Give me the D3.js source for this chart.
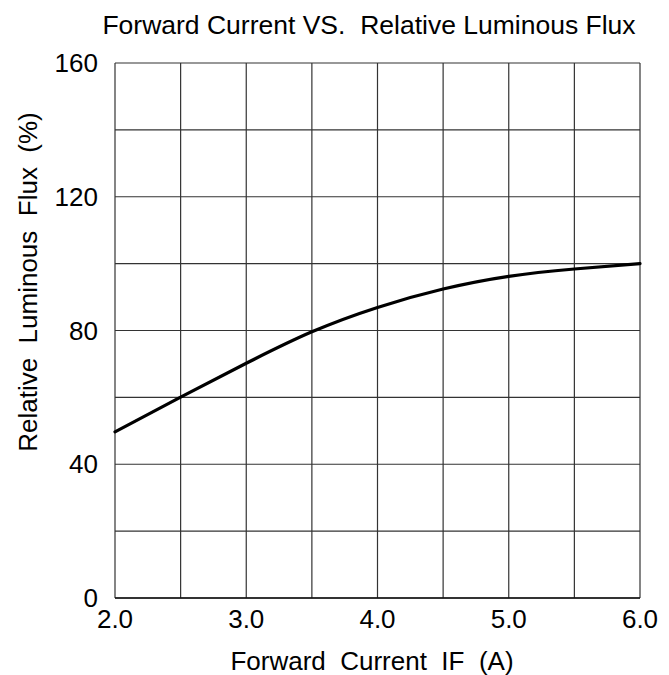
<!DOCTYPE html>
<html>
<head>
<meta charset="utf-8">
<script src="https://cdn.jsdelivr.net/npm/d3@7"></script>
<style>
  html, body { margin: 0; padding: 0; background: #fff; }
  svg text { font-family: "Liberation Sans", Arial, sans-serif; fill: #000; white-space: pre; }
</style>
</head>
<body>
<div id="chart"></div>
<script>
// Forward current (A) vs relative luminous flux (%)
const currents = [2.0, 2.5, 3.0, 3.5, 4.0, 4.5, 5.0, 5.5, 6.0]
const flux = [49.7, 60.1, 70.2, 79.6, 86.9, 92.4, 96.2, 98.4, 100]

const xTicks = [2.0, 3.0, 4.0, 5.0, 6.0]
const xGrid = [2.0, 2.5, 3.0, 3.5, 4.0, 4.5, 5.0, 5.5, 6.0]
const yTicks = [0, 40, 80, 120, 160]
const yGrid = [0, 20, 40, 60, 80, 100, 120, 140, 160]

const width = 669
const height = 675
const margin = { top: 63, right: 29, bottom: 77, left: 115 }
const chartWidth = width - margin.left - margin.right
const chartHeight = height - margin.top - margin.bottom

const svg = d3.select("#chart")
  .append("svg")
  .attr("width", width)
  .attr("height", height)

const g = svg.append("g")
  .attr("transform", `translate(${margin.left},${margin.top})`)

const x = d3.scaleLinear().domain([2, 6]).range([0, chartWidth])
const y = d3.scaleLinear().domain([0, 160]).range([chartHeight, 0])

// grid
g.selectAll(".vgrid")
  .data(xGrid)
  .join("line")
  .attr("x1", d => x(d)).attr("x2", d => x(d))
  .attr("y1", 0).attr("y2", chartHeight)
  .attr("stroke", "#333")
  .attr("stroke-width", 1.2)

g.selectAll(".hgrid")
  .data(yGrid)
  .join("line")
  .attr("x1", 0).attr("x2", chartWidth)
  .attr("y1", d => y(d)).attr("y2", d => y(d))
  .attr("stroke", "#333")
  .attr("stroke-width", 1.2)

// bottom axis line a bit heavier
g.append("line")
  .attr("x1", 0).attr("x2", chartWidth)
  .attr("y1", chartHeight).attr("y2", chartHeight)
  .attr("stroke", "#111")
  .attr("stroke-width", 1.6)

// tick labels
g.selectAll(".xlabel")
  .data(xTicks)
  .join("text")
  .attr("x", d => x(d))
  .attr("y", chartHeight + 30)
  .attr("text-anchor", "middle")
  .attr("font-size", "26px")
  .text(d => d.toFixed(1))

g.selectAll(".ylabel")
  .data(yTicks)
  .join("text")
  .attr("x", -17)
  .attr("y", d => y(d) + 9)
  .attr("text-anchor", "end")
  .attr("font-size", "26px")
  .text(d => d)

// curve
const line = d3.line()
  .x((d, i) => x(currents[i]))
  .y(d => y(d))
  .curve(d3.curveNatural)

g.append("path")
  .datum(flux)
  .attr("fill", "none")
  .attr("stroke", "#000")
  .attr("stroke-width", 3.2)
  .attr("stroke-linecap", "round")
  .attr("d", line)

// titles
svg.append("text")
  .attr("x", 369)
  .attr("y", 34)
  .attr("text-anchor", "middle")
  .attr("font-size", "26.5px")
  .text("Forward Current VS.  Relative Luminous Flux")

svg.append("text")
  .attr("x", 372)
  .attr("y", 670)
  .attr("text-anchor", "middle")
  .attr("font-size", "26px")
  .text("Forward  Current  IF  (A)")

svg.append("text")
  .attr("transform", "translate(37,282) rotate(-90)")
  .attr("text-anchor", "middle")
  .attr("font-size", "26px")
  .text("Relative  Luminous  Flux  (%)")
</script>
</body>
</html>
